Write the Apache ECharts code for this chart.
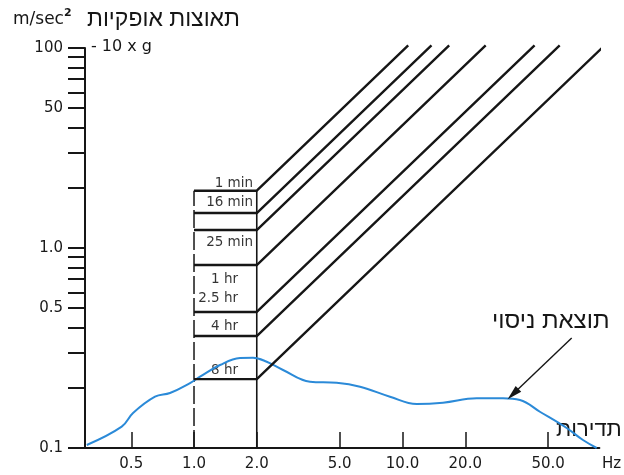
<!DOCTYPE html>
<html><head><meta charset="utf-8">
<script src="https://cdn.jsdelivr.net/npm/echarts@6/dist/echarts.min.js"></script>
<style>html,body{margin:0;padding:0;background:#fff}#c{width:624px;height:475px}</style>
</head><body><div id="c"></div>
<script>
// Measured test result curve (frequency Hz, horizontal acceleration m/sec^2)
const freqHz = [0.306,0.45,0.51,0.65,0.767,0.957,1.069,1.332,1.662,1.919,2.232,2.673,3.6,4.835,6.256,8.71,11.7,15.64,22.69,30.34,36.6,45.6,61.3,73.4,85.4];
const accel  = [0.1035,0.1278,0.1496,0.1805,0.1884,0.2113,0.2273,0.260,0.2818,0.2828,0.270,0.2455,0.2146,0.2121,0.2025,0.1805,0.166,0.1685,0.1772,0.1772,0.1738,0.1518,0.1259,0.1096,0.100];
// Exposure limit curves
const exposureLabels = ['1 min','16 min','25 min','1 hr','2.5 hr','4 hr','8 hr'];
const exposureLevels = [1.934,1.496,1.23,0.822,0.479,0.363,0.221];
const bandStartHz = 1.0;
const bandEndHz = 2.0;
const limitTop = 10.3;
// label anchors (annotation text, in data units)
const exposureLabelAnchors = [[1.92,2.11],[1.92,1.68],[1.92,1.06],[1.626,0.692],[1.626,0.562],[1.626,0.403],[1.626,0.245]];
// arrow pointing to test curve
const arrowFrom = [64.8,0.355];
const arrowTo = [33.9,0.186];
// axes
const xTickValues = [0.5,1,2,5,10,20,50];
const xTickLabels = ['0.5','1.0','2.0','5.0','10.0','20.0','50.0'];
const yTickValues = [0.1,0.5,1,5,10];
const yTickLabels = ['0.1','0.5','1.0','50','100'];
const yMinorTicks = [0.2,0.3,0.4,0.6,0.7,0.8,0.9,2,3,4,6,7,8,9];
const xMin = 0.3, xMax = 88, yMin = 0.1, yMax = 10;

const FONT = '"DejaVu Sans", "Liberation Sans", sans-serif';
const HFONT = '"Liberation Sans", "DejaVu Sans", sans-serif';
const INK = '#161616';
const chart = echarts.init(document.getElementById('c'), null, {renderer:'canvas'});

function lookup(vals, labels, v){
  for (let i=0;i<vals.length;i++){ if (Math.abs(vals[i]-v) < 1e-6*Math.max(1,v)) return labels[i]; }
  return '';
}

const series = [];
series.push({
  type:'line', name:'test', smooth:0.4, symbol:'none',
  data: freqHz.map((f,i)=>[f,accel[i]]),
  lineStyle:{color:'#2b8ad8', width:2}, z:3,
  markLine:{
    silent:true, symbol:['none','triangle'], symbolSize:[8,15], symbolKeepAspect:false,
    label:{show:false},
    lineStyle:{color:INK, width:1.4, type:'solid'},
    emphasis:{disabled:true},
    data:[[{coord:arrowFrom},{coord:arrowTo}]]
  }
});
exposureLevels.forEach((L,i)=>{
  series.push({
    type:'line', name:exposureLabels[i], symbol:'none', clip:false,
    data:[[bandStartHz,L],[bandEndHz,L],[bandEndHz*limitTop/L, limitTop]],
    lineStyle:{color:INK, width:2.4}, z:4
  });
});
const topLevel = Math.max(...exposureLevels);
series.push({
  type:'line', symbol:'none', data:[[bandStartHz,yMin],[bandStartHz,topLevel]],
  lineStyle:{color:INK, width:1.5, type:[18,4]}, z:2
});
series.push({
  type:'line', symbol:'none', data:[[bandEndHz,yMin],[bandEndHz,topLevel]],
  lineStyle:{color:INK, width:1.6}, z:2
});
series.push({
  type:'scatter', symbolSize:0, silent:true,
  data: exposureLabelAnchors.map((p,i)=>({value:p, name:exposureLabels[i]})),
  label:{show:true, position:'left', distance:0, formatter:'{b}', color:'#000',
         fontFamily:FONT, fontSize:13.5}
});

chart.setOption({
  animation:false,
  backgroundColor:'#fff',
  grid:{left:85, right:24.6, top:48, bottom:27, containLabel:false, outerBoundsMode:'none'},
  xAxis:{
    type:'log', logBase:10, min:xMin, max:xMax,
    axisLine:{show:true, lineStyle:{color:INK, width:2}},
    axisTick:{show:true, inside:true, length:16, customValues:xTickValues, lineStyle:{color:INK, width:1.5}},
    axisLabel:{show:true, customValues:xTickValues, margin:9, color:'#1a1a1a', fontFamily:FONT, fontSize:15,
      formatter:(v)=>lookup(xTickValues,xTickLabels,v)},
    splitLine:{show:false}, minorTick:{show:false}
  },
  yAxis:{
    type:'log', logBase:10, min:yMin, max:yMax,
    axisLine:{show:true, onZero:false, lineStyle:{color:INK, width:2}},
    axisTick:{show:true, inside:false, length:17, customValues:yTickValues.concat(yMinorTicks), lineStyle:{color:INK, width:2}},
    axisLabel:{show:true, customValues:yTickValues, margin:22, color:'#1a1a1a', fontFamily:FONT, fontSize:15,
      formatter:(v)=>lookup(yTickValues,yTickLabels,v)},
    splitLine:{show:false}, minorTick:{show:false}
  },
  series: series,
  graphic:[
    {type:'text', left:13, top:8, style:{text:'{a|m/sec}{b|2}', rich:{a:{fontFamily:FONT, fontSize:17, fill:INK, padding:[6,0,0,0]}, b:{fontFamily:FONT, fontSize:11, fontWeight:'bold', fill:INK, padding:[0,0,6,0]}}}},
    {type:'text', left:87, top:8, style:{text:'תאוצות אופקיות', fontFamily:HFONT, fontSize:23, fill:INK}},
    {type:'text', left:91, top:39, style:{text:'- 10 x g', fontFamily:FONT, fontSize:16, fill:INK}},
    {type:'text', left:492, top:309, style:{text:'תוצאת ניסוי', fontFamily:HFONT, fontSize:24, fill:INK}},
    {type:'text', left:556, top:419, style:{text:'תדירות', fontFamily:HFONT, fontSize:22, fill:INK}},
    {type:'text', left:602, top:457, style:{text:'Hz', fontFamily:FONT, fontSize:15, fill:INK}}
  ]
});
</script>
</body></html>
